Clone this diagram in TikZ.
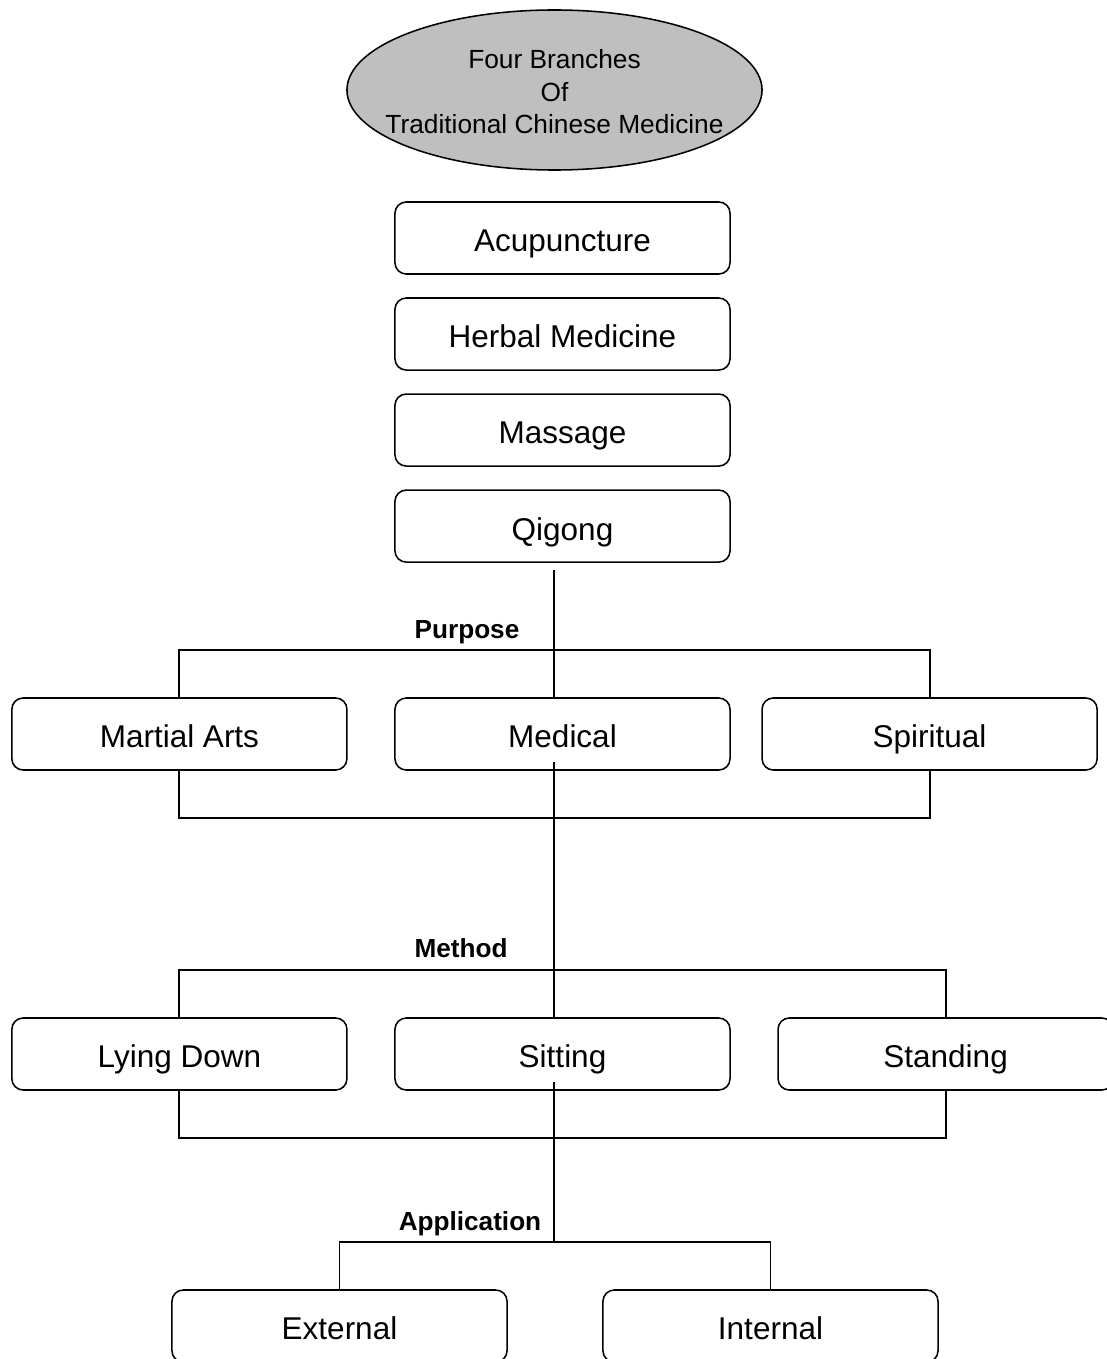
\documentclass[tikz,border=0pt]{standalone}
\usepackage{fontspec}
\setmainfont{Liberation Sans}
\usepackage{tikz}
\usetikzlibrary{positioning, shapes.geometric, calc}
\tikzset{%
	topic/.style={draw, ellipse, fill=black!25, line width=1.1pt, minimum width=10.375cm,%
		minimum height=4cm, inner sep=0mm, font=\fontsize{18.7}{22.8}\selectfont},
	branch/.style={draw, rectangle, minimum width=8.375cm, minimum height=1.8cm,%
		rounded corners=8pt, line width=1.1pt, outer sep=0pt, fill=white, text height=24.3pt,%
		text depth=4.5pt, font=\fontsize{22.4}{26}\selectfont},
	heading/.style={inner sep=0mm, anchor=base, font=\fontsize{18.6}{22}\selectfont\bfseries},
	connector/.style={line width=1.4pt}
}
\newcommand{\tcmtitle}{\raisebox{-7.6pt}[0pt][0pt]{\makebox[0pt]{\begin{tabular}{@{}c@{}}Four Branches\\Of\\Traditional Chinese Medicine\end{tabular}}}}

\begin{document}
\begin{tikzpicture}[x=0.025cm, y=-0.025cm]
	\useasboundingbox (0,0) rectangle (1106,1359);

	\node[topic] (tcm) at (554.5,90) {\tcmtitle};

	\node[branch] (acu) at (562.5,238) {Acupuncture};
	\node[branch, below=0.6cm of acu] (herb) {Herbal Medicine};
	\node[branch, below=0.6cm of herb] (mass) {Massage};
	\node[branch, below=0.6cm of mass] (qig) {Qigong};

	\node[branch] (medical) at (562.5,734) {Medical};
	\node[branch, left=1.2cm of medical] (martial) {Martial Arts};
	\node[branch, right=0.8cm of medical] (spirit) {Spiritual};

	\node[branch] (sitting) at (562.5,1054) {Sitting};
	\node[branch, left=1.2cm of sitting] (lying) {Lying Down};
	\node[branch, right=1.2cm of sitting] (standing) {Standing};

	\node[branch] (external) at (339.5,1326) {External};
	\node[branch] (internal) at (770.5,1326) {Internal};

	\node[heading] (purpose) at (467,638) {Purpose};
	\node[heading] (method) at (461,957) {Method};
	\node[heading] (appl) at (470,1230) {Application};

	% trunk joints
	\coordinate (q0) at (554,570);
	\coordinate (p1) at (554,650);
	\coordinate (p2) at (554,818);
	\coordinate (m0) at (554,762);
	\coordinate (m1) at (554,970);
	\coordinate (m2) at (554,1138);
	\coordinate (s0) at (554,1082);
	\coordinate (a1) at (554,1242);

	\draw[connector] (q0) -- (p1) -- (medical.north -| p1);
	\draw[connector] (martial.north) |- (p1) -| (spirit.north);
	\draw[connector] (martial.south) |- (p2) -| (spirit.south);
	\draw[connector] (m0) -- (sitting.north -| m0);
	\draw[connector] (lying.north) |- (m1) -| (standing.north);
	\draw[connector] (lying.south) |- (m2) -| (standing.south);
	\draw[connector] (s0) -- (a1);
	\draw[connector] (external.north) |- (a1) -| (internal.north);
\end{tikzpicture}
\end{document}
